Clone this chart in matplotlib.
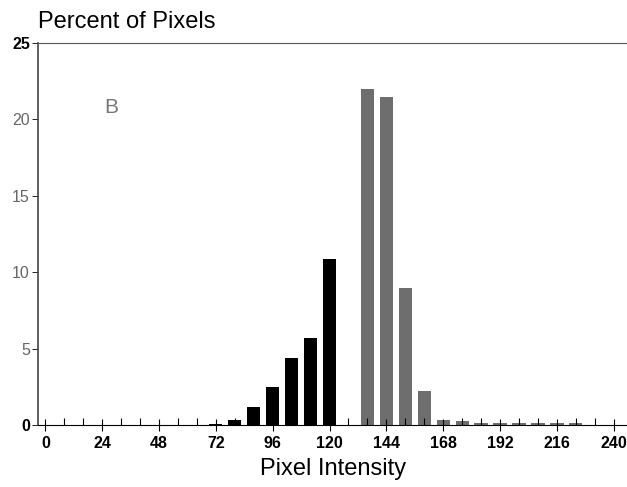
import matplotlib
matplotlib.use("Agg")
import matplotlib.pyplot as plt
from matplotlib.ticker import MultipleLocator

plt.rcParams['font.family'] = ['Liberation Sans', 'DejaVu Sans']

# bin centres (pixel intensity) and percent of pixels
dark_bins = [72, 80, 88, 96, 104, 112, 120]
dark_pct = [0.05, 0.33, 1.2, 2.5, 4.4, 5.7, 10.85]

light_bins = [136, 144, 152, 160, 168, 176, 184, 192, 200, 208, 216, 224]
light_pct = [22.0, 21.45, 8.95, 2.25, 0.33, 0.27, 0.16, 0.16, 0.16, 0.15, 0.17, 0.14]

xticks = [0, 24, 48, 72, 96, 120, 144, 168, 192, 216, 240]
yticks = [0, 5, 10, 15, 20, 25]

fig = plt.figure(figsize=(6.27, 4.87), dpi=100)
ax = fig.add_axes([0.061, 0.127, 0.939, 0.785])

ax.bar(dark_bins, dark_pct, width=5.6, color='black')
ax.bar(light_bins, light_pct, width=5.6, color='#6e6e6e')

ax.set_xlim(-3, 245.6)
ax.set_ylim(0, 25)

ax.set_xticks(xticks)
ax.xaxis.set_minor_locator(MultipleLocator(8))
ax.set_yticks(yticks)
ax.tick_params(axis='x', which='major', direction='inout', length=8, width=0.8,
               labelsize=11.5, pad=4)
ax.tick_params(axis='x', which='minor', direction='in', length=5, width=0.8)
ax.tick_params(axis='y', direction='out', length=4, width=0.6, labelsize=11.5, pad=2)
for lab in ax.get_xticklabels():
    lab.set_fontweight('bold')
for lab, v in zip(ax.get_yticklabels(), yticks):
    if v in (0, 25):
        lab.set_fontweight('bold')
    else:
        lab.set_color('#666666')

ax.spines['right'].set_visible(False)
ax.spines['top'].set_linestyle((0, (1, 1)))
ax.spines['top'].set_linewidth(0.8)
ax.spines['top'].set_color('#555555')
ax.spines['bottom'].set_linestyle((0, (2, 1)))
ax.spines['bottom'].set_linewidth(0.8)
ax.spines['left'].set_linewidth(1.2)
ax.spines['left'].set_color('#444444')

ax.text(25, 20.4, 'B', fontsize=15, color='#777777')

fig.text(0.061, 0.933, 'Percent of Pixels', fontsize=17, va='bottom', ha='left')
ax.set_xlabel('Pixel Intensity', fontsize=17, labelpad=5)

fig.savefig('out.png', dpi=100)
